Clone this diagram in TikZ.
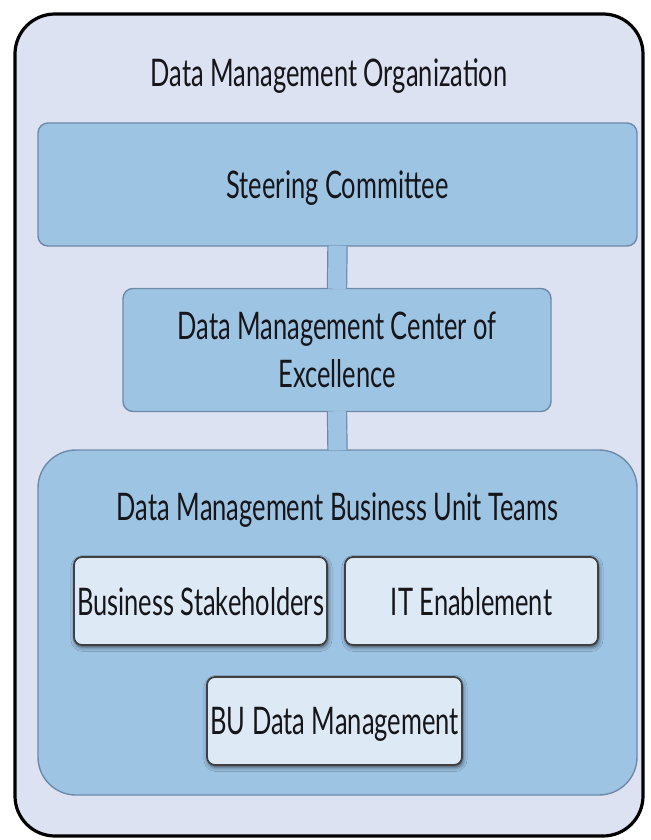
\documentclass[tikz,border=0pt]{standalone}
\usepackage{fontspec}
\setmainfont[FakeStretch=0.67]{Lato}
\definecolor{orgfill}{RGB}{221,226,242}
\definecolor{bandblue}{RGB}{158,196,228}
\definecolor{bandrim}{RGB}{108,138,168}
\definecolor{unitfill}{RGB}{222,233,246}
\definecolor{inktext}{RGB}{22,22,26}
\usetikzlibrary{shapes,positioning,calc,shadows.blur}

\begin{document}
\begin{tikzpicture}[x=0.5pt, y=-0.5pt,
    every node/.style={text=inktext, font=\fontsize{19}{24}\selectfont},
    orgframe/.style={draw=black, line width=1.6pt, fill=orgfill, rounded corners=20pt, inner sep=0pt},
    bandbox/.style={draw=bandrim, line width=0.7pt, fill=bandblue, rounded corners=5pt, inner sep=0pt,
        align=center, text depth=0pt},
    unitbox/.style={draw=black!75, line width=0.9pt, fill=unitfill, rounded corners=4pt, inner sep=0pt,
        minimum width=126.5pt, minimum height=44pt, text depth=0pt,
        blur shadow={shadow xshift=0.5pt, shadow yshift=-1.2pt, shadow blur steps=4, shadow opacity=60}},
    linkbar/.style={draw=bandrim, line width=0.6pt, double=bandblue, double distance=9pt, line cap=butt,
        shorten <=-0.5pt, shorten >=-0.5pt}
  ]
  \useasboundingbox (0,0) rectangle (650,840);

  % outer organisation frame
  \node[orgframe, minimum width=314pt, minimum height=411pt] (org) at (329,425) {};
  \node (orgtitle) at (329,76) {Data Management Organization};

  % governance bands
  \node[bandbox, minimum width=299.5pt, minimum height=61.5pt] (steer) at (337.5,184.5) {Steering Committee};
  \node[bandbox, minimum width=214pt, minimum height=61.5pt] (coe) at (337,350)
      {Data Management Center of\\Excellence};
  \node[bandbox, rounded corners=19pt, minimum width=299.5pt, minimum height=172.5pt] (teams) at (337.5,622.5) {};
  \node (teamstitle) at (337.5,510) {Data Management Business Unit Teams};

  % business unit teams
  \node[unitbox] (biz) at (200.5,601) {Business Stakeholders};
  \node[unitbox] (itenable) at (471.5,601) {IT Enablement};
  \node[unitbox, minimum width=127.5pt] (budm) at (334.5,721) {BU Data Management};

  % links between bands
  \draw[linkbar] (steer.south) -- (coe.north);
  \draw[linkbar] (coe.south) -- (teams.north);
\end{tikzpicture}
\end{document}
